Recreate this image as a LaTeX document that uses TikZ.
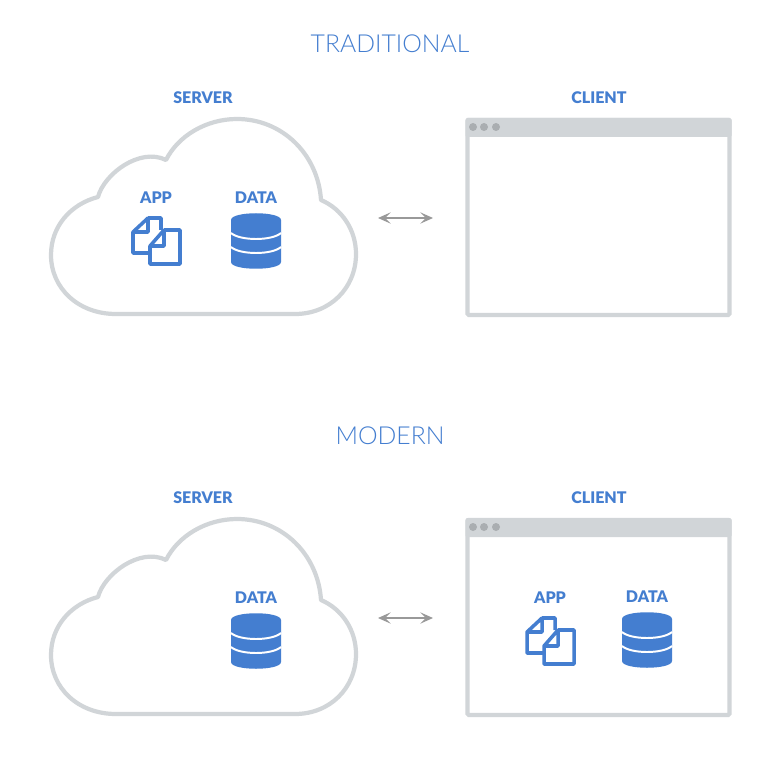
\documentclass[tikz,border=0pt]{standalone}
\usepackage{fontspec}
\setmainfont{Lato}
\newfontfamily\lightfont{Lato Light}
\newfontfamily\heavyfont{Lato Black}
\usetikzlibrary{arrows.meta,positioning}
\definecolor{appblue}{RGB}{68,126,208}
\definecolor{framegray}{RGB}{209,213,216}
\definecolor{dotgray}{RGB}{170,174,177}
\definecolor{arrowgray}{RGB}{153,153,153}
\tikzset{
  headtext/.style={font=\lightfont\fontsize{17.6}{20}\selectfont, text=appblue, inner sep=0pt},
  labeltext/.style={font=\heavyfont\fontsize{11.4}{13}\selectfont, text=appblue, inner sep=0pt},
  syncarrow/.style={draw=arrowgray, line width=1.9pt, {Stealth[length=9pt,width=8pt,inset=4pt]}-{Stealth[length=9pt,width=8pt,inset=4pt]}},
  pics/cloudshape/.style={code={
    \draw[framegray, line width=3pt, line join=round]
      (116,314) .. controls (78,314) and (51,288) .. (51,255)
      .. controls (51,226) and (71,204) .. (98,197)
      .. controls (104,174) and (140,147) .. (166,160)
      .. controls (178,136) and (206,119) .. (237,119)
      .. controls (282,119) and (318,154) .. (321,200)
      .. controls (342,209) and (356,230) .. (356,254)
      .. controls (356,288) and (330,314) .. (295,314) -- cycle;
  }},
  pics/windowshape/.style={code={
    \draw[framegray, line width=3pt, rounded corners=1pt] (467.5,120) rectangle (729.5,315);
    \fill[framegray, rounded corners=1pt] (465.5,118) rectangle (731.5,137);
    \foreach \dotx in {473,484,496} {
      \fill[dotgray] (\dotx,127) circle (4);
    }
  }},
  pics/docsicon/.style={code={
    \draw[appblue, line width=2.5pt, line join=round]
      (148,218) -- (161,218) -- (161,230) (150,253) -- (133,253) -- (133,232) -- (148,218) -- (148,232) -- (133,232);
    \draw[appblue, line width=2.5pt, line join=round]
      (164,230) -- (180,230) -- (180,264) -- (150,264) -- (150,246) -- (164,230) -- (164,246) -- (150,246);
  }},
  pics/dbicon/.style={code={
    \fill[appblue] (231,220) .. controls (231,211) and (281,211) .. (281,220) -- (281,262)
      .. controls (281,271) and (231,271) .. (231,262) -- cycle;
    \draw[white, line width=1.4pt] (231,233) .. controls (240,241) and (272,241) .. (281,233);
    \draw[white, line width=1.4pt] (231,247) .. controls (240,255) and (272,255) .. (281,247);
  }},
}

\begin{document}
\begin{tikzpicture}[x=0.025cm, y=-0.025cm]
  \useasboundingbox[fill=white] (0,0) rectangle (780,780);

  % traditional
  \node[headtext] (titleTrad) at (390,44) {TRADITIONAL};
  \node[labeltext] (serverTrad) at (203,98) {SERVER};
  \node[labeltext] (clientTrad) at (599,98) {CLIENT};
  \pic at (0,0) {cloudshape};
  \pic at (0,0) {windowshape};
  \node[labeltext] (appTrad) at (156,198) {APP};
  \node[labeltext] (dataTrad) at (256,198) {DATA};
  \pic at (0,0) {docsicon};
  \pic at (0,0) {dbicon};
  \coordinate (leftTrad) at (378,218);
  \coordinate (rightTrad) at (433,218);
  \draw[syncarrow] (leftTrad) -- (rightTrad);

  % modern
  \node[headtext] (titleMod) at (390,436) {MODERN};
  \node[labeltext] (serverMod) at (203,498) {SERVER};
  \node[labeltext] (clientMod) at (599,498) {CLIENT};
  \pic at (0,400) {cloudshape};
  \pic at (0,400) {windowshape};
  \node[labeltext] (dataMod) at (256,598) {DATA};
  \pic at (0,400) {dbicon};
  \node[labeltext] (appMod) at (550,598) {APP};
  \node[labeltext] (dataClient) at (647,597) {DATA};
  \pic at (394,400) {docsicon};
  \pic at (391,399) {dbicon};
  \coordinate (leftMod) at (378,618);
  \coordinate (rightMod) at (433,618);
  \draw[syncarrow] (leftMod) -- (rightMod);
\end{tikzpicture}
\end{document}
